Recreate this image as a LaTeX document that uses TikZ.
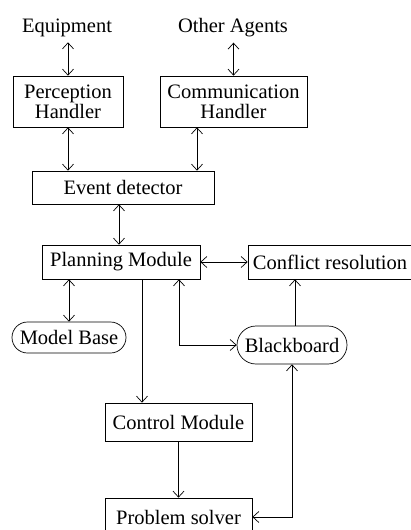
\documentclass[tikz,border=0pt]{standalone}
\usepackage{fontspec}
\setmainfont{Liberation Serif}
\usepackage{tikz}
\usetikzlibrary{positioning,arrows.meta}

\begin{document}
\begin{tikzpicture}[x=1pt, y=-1pt, >={Straight Barb[length=6pt,width=11pt]}, line width=0.7pt,
  box/.style={draw, align=center, inner sep=0pt, font=\fontsize{20.5}{20}\selectfont},
  pill/.style={box, rounded corners=#1},
  lbl/.style={inner xsep=0pt, inner ysep=5pt, font=\fontsize{20.5}{20}\selectfont}]
\useasboundingbox (0,0) rectangle (411,530);
\clip (0,0) rectangle (411,530);
\node[lbl] (equip) at (67,28) {Equipment};
\node[lbl] (agents) at (233,28) {Other Agents};
\node[box, minimum width=110pt, minimum height=51pt] (perc) at (68,101.5) {Perception\\ Handler};
\node[box, minimum width=147pt, minimum height=51pt] (comm) at (233.5,101.5) {Communication\\ Handler};
\node[box, minimum width=182pt, minimum height=33pt] (event) at (123,187.5) {Event detector};
\node[box, minimum width=158pt, minimum height=34pt] (plan) at (121,262) {Planning Module};
\node[box, minimum width=164pt, minimum height=34pt] (conf) at (330,262) {Conflict resolution};
\node[pill=15.5pt, minimum width=114pt, minimum height=31pt] (model) at (69,337.5) {Model Base};
\node[pill=19pt, minimum width=110pt, minimum height=38pt] (black) at (292,345) {Blackboard};
\node[box, minimum width=147pt, minimum height=38pt] (ctrl) at (178.5,422) {Control Module};
\node[box, minimum width=147pt, minimum height=38pt] (prob) at (178.5,517) {Problem solver};
\coordinate (evr) at ([xshift=74pt]event.north);
\coordinate (pl) at ([xshift=-2pt]plan.north);
\coordinate (pc) at ([xshift=21pt]plan.south);
\coordinate (pb) at ([xshift=58pt]plan.south);
\coordinate (bc) at ([xshift=3pt]black.north);
\draw[<->] (perc.north) -- (perc.north |- equip.south);
\draw[<->] (comm.north) -- (comm.north |- agents.south);
\draw[<->] (perc.south) -- (perc.south |- event.north);
\draw[<->] (evr) -- (evr |- comm.south);
\draw[<->] (pl) -- (pl |- event.south);
\draw[<->] (plan.east) -- (conf.west);
\draw[<->] (model.north) -- (model.north |- plan.south);
\draw[->] (pc) -- (pc |- ctrl.north);
\draw[<->] (pb) |- (black.west);
\draw[->] (bc) -- (bc |- conf.south);
\draw[<->] (black.south) |- (prob.east);
\draw[->] (ctrl.south) -- (prob.north);
\end{tikzpicture}
\end{document}
